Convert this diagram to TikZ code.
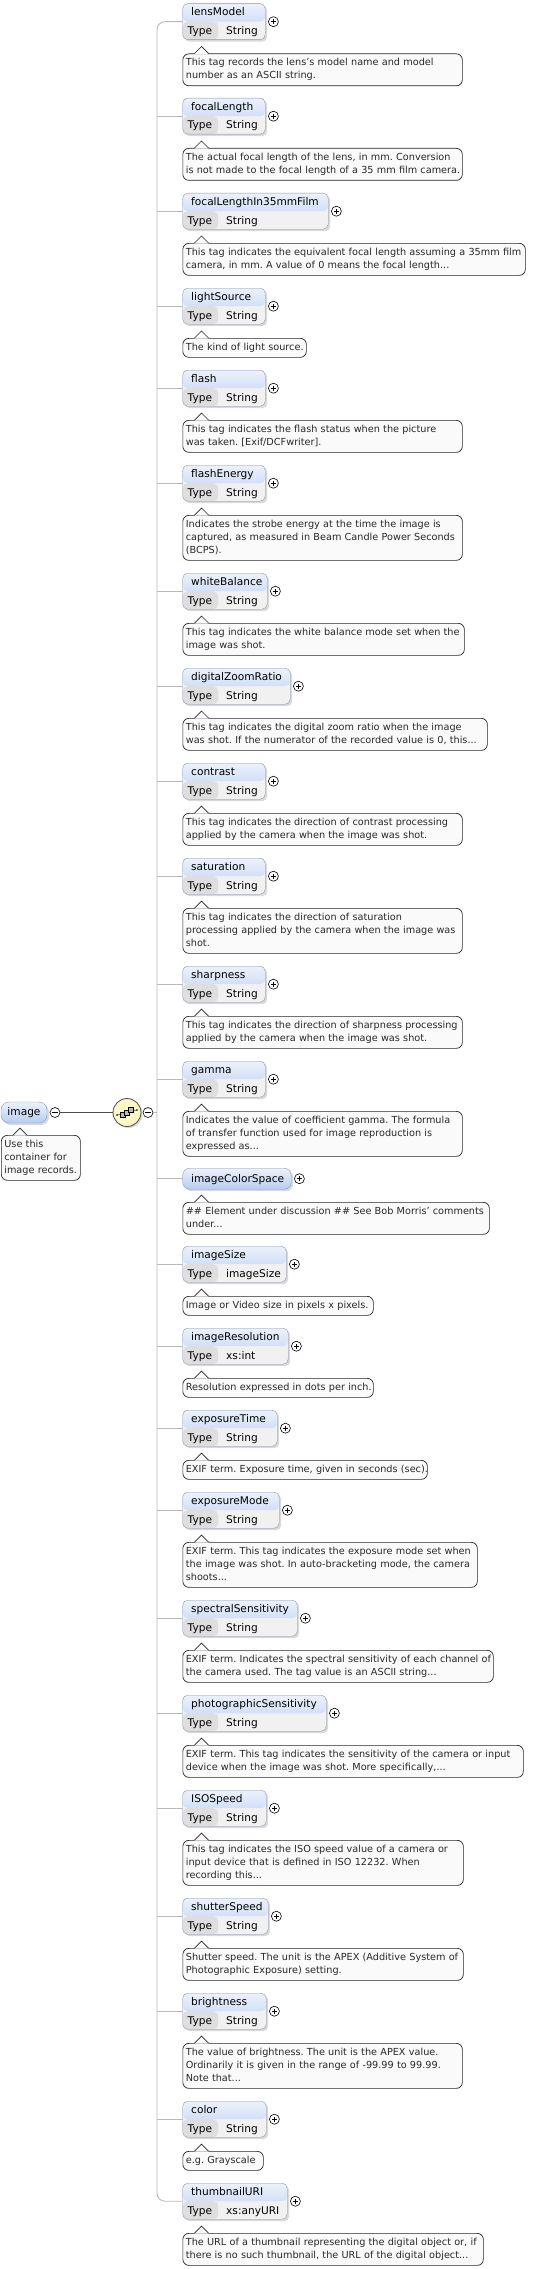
\documentclass[tikz,border=0pt]{standalone}
\usepackage{fontspec}
\setmainfont{DejaVu Sans}
\usetikzlibrary{calc,shadows}
\definecolor{hdtop}{RGB}{236,242,252}
\definecolor{hdbot}{RGB}{184,204,240}
\definecolor{boxline}{RGB}{140,152,176}
\definecolor{typecell}{RGB}{222,222,222}
\definecolor{valcell}{RGB}{241,241,241}
\definecolor{docfill}{RGB}{250,250,250}
\definecolor{doctext}{RGB}{40,40,40}
\definecolor{trunkgray}{RGB}{185,185,185}
\definecolor{seqfill}{RGB}{251,247,198}
\newcommand\doclines[1]{\begin{tabular}{@{}l@{}}#1\end{tabular}}

\tikzset{
  elbox/.style={draw=boxline,fill=valcell,rounded corners=5pt,anchor=north west,inner sep=0pt,minimum height=36pt,
    drop shadow={shadow xshift=2pt,shadow yshift=-2pt,opacity=.3},
    path picture={
      \fill[top color=hdtop,bottom color=hdbot] (path picture bounding box.north west) rectangle ([yshift=18pt]path picture bounding box.south east);
      \fill[typecell] ([yshift=18pt]path picture bounding box.south west) rectangle ([xshift=35.5pt]path picture bounding box.south west);}},
  hdbox/.style={draw=boxline,top color=hdtop,bottom color=hdbot,rounded corners=7pt,inner sep=0pt,minimum height=21pt,
    drop shadow={shadow xshift=2pt,shadow yshift=-2pt,opacity=.3}},
  elname/.style={anchor=base west,inner sep=0pt,font=\fontsize{10.6}{12}\selectfont},
  celltext/.style={elname},
  docbox/.style={draw=black!85,line width=.7pt,fill=docfill,rounded corners=6pt,anchor=north west,align=left,
    inner xsep=3pt,inner ysep=3pt,text=doctext,font=\fontsize{9.7}{13}\selectfont\frenchspacing},
  plusmark/.style={circle,draw,fill=white,inner sep=0pt,minimum size=10pt,line width=.6pt,
    path picture={\draw[line width=.6pt] ([xshift=-2.6pt]path picture bounding box.center) -- ([xshift=2.6pt]path picture bounding box.center)
      ([yshift=-2.6pt]path picture bounding box.center) -- ([yshift=2.6pt]path picture bounding box.center);}},
  minusmark/.style={circle,draw,fill=white,inner sep=0pt,minimum size=10pt,line width=.6pt,
    path picture={\draw[line width=.6pt] ([xshift=-2.6pt]path picture bounding box.center) -- ([xshift=2.6pt]path picture bounding box.center);}},
  trunkline/.style={draw=trunkgray,line width=.9pt}
}

\begin{document}
\begin{tikzpicture}[x=1pt,y=-1pt]
  \useasboundingbox (0,0) rectangle (549,2269);

  % root element and sequence
  \node[hdbox,minimum width=46pt,rounded corners=8pt,font=\fontsize{10.6}{12}\selectfont] (image) at (24,1112.5) {image};
  \node[minusmark] (m1) at (55,1112.5) {};
  \node[circle,draw=black!70,fill=seqfill,minimum size=28pt,inner sep=0pt,line width=.8pt,
    drop shadow={shadow xshift=1.5pt,shadow yshift=-1.5pt,opacity=.3}] (seq) at (127,1112.5) {};
  \node[minusmark] (m2) at (148,1112.5) {};
  \coordinate (tr) at (157,1112.5);
  \node[docbox,text width=73pt] (imagedoc) at (1,1135) {\doclines{Use this\\container for\\image records.}};
  \fill[docfill] ($(imagedoc.north west)+(12,0.6)$) -- ++(7,-7.6) -- ++(7,7.6) -- cycle;
  \draw[black!85,line width=.7pt] ($(imagedoc.north west)+(12,0)$) -- ++(7,-7) -- ++(7,7);

  \draw[black!70,line width=1.6pt] (m1) -- (seq);
  \draw[trunkline] (m2) -- (tr);
  \draw[black!70,line width=.5pt] ($(seq)+(-10,2.5)$) -- ($(seq)+(10,-2.5)$);
  \foreach \dx/\dy in {-4/2.5,0/0,4/-2.5}
    \draw[fill=gray!55,line width=.5pt] ($(seq)+(\dx-2.5,\dy-2.5)$) rectangle ++(5,5);
  \fill ($(seq)+(-10,2.5)$) circle (.8pt) ($(seq)+(10,-2.5)$) circle (.8pt);

  % child elements
  \foreach \i/\yy/\ttl/\typ/\bw/\dw/\txt in {
    1/3.5/lensModel/String/265/462/{This tag records the lens's model name and model\\number as an ASCII string.},
    2/98/focalLength/String/265/462/{The actual focal length of the lens, in mm. Conversion\\is not made to the focal length of a 35 mm film camera.},
    3/193/focalLengthIn35mmFilm/String/328/525/{This tag indicates the equivalent focal length assuming a 35mm film\\camera, in mm. A value of 0 means the focal length...},
    4/288/lightSource/String/265/306/{The kind of light source.},
    5/370/flash/String/265/462/{This tag indicates the flash status when the picture\\was taken. [Exif/DCFwriter].},
    6/465/flashEnergy/String/265/462/{Indicates the strobe energy at the time the image is\\captured, as measured in Beam Candle Power Seconds\\(BCPS).},
    7/573/whiteBalance/String/267/464/{This tag indicates the white balance mode set when the\\image was shot.},
    8/668/digitalZoomRatio/String/290/487/{This tag indicates the digital zoom ratio when the image\\was shot. If the numerator of the recorded value is 0, this...},
    9/763/contrast/String/265/462/{This tag indicates the direction of contrast processing\\applied by the camera when the image was shot.},
    10/858/saturation/String/265/462/{This tag indicates the direction of saturation\\processing applied by the camera when the image was\\shot.},
    11/966/sharpness/String/265/462/{This tag indicates the direction of sharpness processing\\applied by the camera when the image was shot.},
    12/1061/gamma/String/265/462/{Indicates the value of coefficient gamma. The formula\\of transfer function used for image reproduction is\\expressed as...},
    14/1246/imageSize/imageSize/286/373/{Image or Video size in pixels x pixels.},
    15/1328/imageResolution/xs:int/288/373/{Resolution expressed in dots per inch.},
    16/1410/exposureTime/String/277/427/{EXIF term. Exposure time, given in seconds (sec).},
    17/1492/exposureMode/String/279/477/{EXIF term. This tag indicates the exposure mode set when\\the image was shot. In auto-bracketing mode, the camera\\shoots...},
    18/1600/spectralSensitivity/String/297/493/{EXIF term. Indicates the spectral sensitivity of each channel of\\the camera used. The tag value is an ASCII string...},
    19/1695/photographicSensitivity/String/326/523/{EXIF term. This tag indicates the sensitivity of the camera or input\\device when the image was shot. More specifically,...},
    20/1790/ISOSpeed/String/266/463/{This tag indicates the ISO speed value of a camera or\\input device that is defined in ISO 12232. When\\recording this...},
    21/1898/shutterSpeed/String/268/463/{Shutter speed. The unit is the APEX (Additive System of\\Photographic Exposure) setting.},
    22/1993/brightness/String/266/462/{The value of brightness. The unit is the APEX value.\\Ordinarily it is given in the range of -99.99 to 99.99.\\Note that...},
    23/2101/color/String/266/263/{e.g. Grayscale},
    24/2183/thumbnailURI/xs:anyURI/287/483/{The URL of a thumbnail representing the digital object or, if\\there is no such thumbnail, the URL of the digital object...}}{
    \pgfmathsetmacro\boxw{\bw-182.5}
    \pgfmathsetmacro\docw{\dw-188.5}
    \node[elbox,minimum width=\boxw pt] (e\i) at (182.5,\yy) {};
    \node[elname] (t\i) at ($(e\i.north west)+(8.5,12.5)$) {\ttl};
    \node[celltext] (k\i) at ($(e\i.north west)+(5,31)$) {Type};
    \node[celltext] (v\i) at ($(e\i.north west)+(43.5,31)$) {\typ};
    \node[plusmark] (p\i) at ($(e\i.east)+(8,0)$) {};
    \node[docbox,text width=\docw pt] (d\i) at (182.5,\yy+50) {\doclines{\txt}};
    \fill[docfill] ($(d\i.north west)+(12,0.6)$) -- ++(7,-7.6) -- ++(7,7.6) -- cycle;
    \draw[black!85,line width=.7pt] ($(d\i.north west)+(12,0)$) -- ++(7,-7) -- ++(7,7);
  }

  % element without type row
  \node[hdbox,anchor=north west,minimum width=108.5pt] (e13) at (182.5,1168) {};
  \node[elname] (t13) at ($(e13.north west)+(8.5,14.5)$) {imageColorSpace};
  \node[plusmark] (p13) at ($(e13.east)+(8,0)$) {};
  \node[docbox,text width=300.5pt] (d13) at (182.5,1202) {\doclines{\#\# Element under discussion \#\# See Bob Morris' comments\\under...}};
  \fill[docfill] ($(d13.north west)+(12,0.6)$) -- ++(7,-7.6) -- ++(7,7.6) -- cycle;
  \draw[black!85,line width=.7pt] ($(d13.north west)+(12,0)$) -- ++(7,-7) -- ++(7,7);

  % connectors
  \draw[trunkline,rounded corners=8pt] (e1.west) -- (e1.west -| tr) -- (e24.west -| tr) -- (e24.west);
  \foreach \i in {2,...,23}
    \draw[trunkline] (e\i.west -| tr) -- (e\i.west);
\end{tikzpicture}
\end{document}
